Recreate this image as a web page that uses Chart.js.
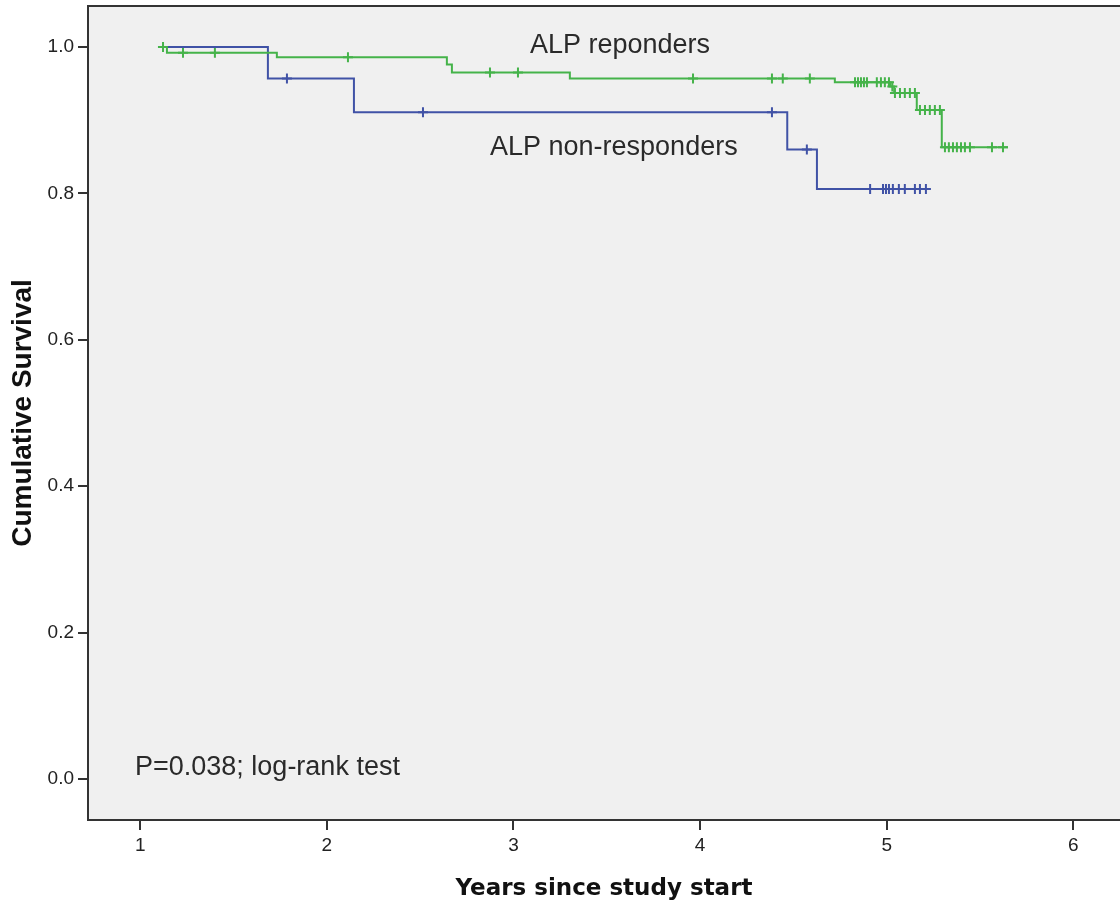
<!DOCTYPE html>
<html>
<head>
<meta charset="utf-8">
<script src="https://cdn.jsdelivr.net/npm/chart.js@4.4.1/dist/chart.umd.min.js"></script>
<style>
  html, body { margin: 0; padding: 0; background: #fff; }
  canvas { display: block; }
</style>
</head>
<body>
<canvas id="kmChart" width="1120" height="907"></canvas>
<script>
// survival steps (time in years, cumulative survival)
const respTimes = [1.095, 1.143, 1.732, 2.643, 2.67, 3.302, 4.722, 5.02, 5.04, 5.161, 5.295, 5.65];
const respSurv  = [1.0, 0.992, 0.986, 0.976, 0.965, 0.957, 0.952, 0.946, 0.937, 0.914, 0.863, 0.863];
const respCensored = [1.122, 1.229, 1.40, 2.113, 2.874, 3.024, 3.962, 4.385, 4.443, 4.588,
  4.83, 4.846, 4.862, 4.878, 4.894, 4.947, 4.969, 4.99, 5.012, 5.03,
  5.044, 5.071, 5.097, 5.124, 5.151, 5.178, 5.205, 5.231, 5.258, 5.285,
  5.312, 5.333, 5.355, 5.376, 5.398, 5.419, 5.446, 5.564, 5.623];

const nonTimes = [1.095, 1.684, 2.145, 4.467, 4.626, 5.232];
const nonSurv  = [1.0, 0.957, 0.911, 0.860, 0.806, 0.806];
const nonCensored = [1.786, 2.515, 4.385, 4.572, 4.911, 4.98, 4.996, 5.012, 5.033,
  5.065, 5.097, 5.151, 5.178, 5.21];

const xTicks = [1, 2, 3, 4, 5, 6];
const yTicks = [0, 0.2, 0.4, 0.6, 0.8, 1.0];

const GREEN = "#45b34a";
const BLUE = "#4052a6";
const AXIS = "#333";

// survival value in force at time t (for placing the censor marks on the curve)
function survAt(times, surv, t) {
  let s = surv[0];
  for (let i = 0; i < times.length; i++) {
    if (times[i] <= t) s = surv[i];
  }
  return s;
}

const toPts = (times, surv) => times.map((t, i) => ({ x: t, y: surv[i] }));
const censorPts = (cens, times, surv) => cens.map(t => ({ x: t, y: survAt(times, surv, t) }));

// ---------- background + frame ----------
const framePlugin = {
  id: "frame",
  beforeDraw(chart) {
    const { ctx, chartArea: a } = chart;
    ctx.save();
    ctx.fillStyle = "#fff";
    ctx.fillRect(0, 0, chart.width, chart.height);
    ctx.fillStyle = "#f0f0f0";
    ctx.fillRect(a.left, a.top, a.right - a.left, a.bottom - a.top);
    ctx.restore();
  },
  afterDraw(chart) {
    const { ctx, chartArea: a } = chart;
    ctx.save();
    ctx.strokeStyle = AXIS;
    ctx.lineWidth = 2;
    ctx.beginPath();
    ctx.moveTo(a.left - 1, a.top);
    ctx.lineTo(a.right, a.top);
    ctx.stroke();
    ctx.restore();
  }
};

// ---------- text annotations ----------
const notesPlugin = {
  id: "notes",
  afterDatasetsDraw(chart) {
    const ctx = chart.ctx;
    ctx.save();
    ctx.fillStyle = "#2a2a2a";
    ctx.font = "27px 'Liberation Sans', Arial, sans-serif";
    ctx.textBaseline = "alphabetic";
    ctx.textAlign = "left";
    ctx.fillText("ALP reponders", 530, 53);
    ctx.fillText("ALP non-responders", 490, 155);
    ctx.fillText("P=0.038; log-rank test", 135, 775);
    ctx.restore();
  }
};

new Chart(document.getElementById("kmChart"), {
  type: "line",
  data: {
    datasets: [
      {
        label: "ALP reponders",
        data: toPts(respTimes, respSurv),
        stepped: "before",
        borderColor: GREEN,
        borderWidth: 2,
        pointRadius: 0,
        fill: false
      },
      {
        label: "ALP non-responders",
        data: toPts(nonTimes, nonSurv),
        stepped: "before",
        borderColor: BLUE,
        borderWidth: 2,
        pointRadius: 0,
        fill: false
      },
      {
        label: "responders censored",
        data: censorPts(respCensored, respTimes, respSurv),
        showLine: false,
        pointStyle: "cross",
        pointRadius: 5,
        borderColor: GREEN,
        borderWidth: 2
      },
      {
        label: "non-responders censored",
        data: censorPts(nonCensored, nonTimes, nonSurv),
        showLine: false,
        pointStyle: "cross",
        pointRadius: 5,
        borderColor: BLUE,
        borderWidth: 2
      }
    ]
  },
  options: {
    responsive: false,
    animation: false,
    layout: { autoPadding: false, padding: { top: 6, left: 0, right: 0, bottom: 0 } },
    plugins: { legend: { display: false }, tooltip: { enabled: false } },
    scales: {
      x: {
        type: "linear",
        min: 0.72,
        max: 6.25,
        afterBuildTicks: s => { s.ticks = xTicks.map(v => ({ value: v })); },
        afterFit: s => { s.height = 87; s.paddingLeft = 0; s.paddingRight = 0; },
        grid: { drawOnChartArea: false, drawTicks: true, tickLength: 10, color: AXIS, lineWidth: 2 },
        border: { display: true, color: AXIS, width: 2 },
        ticks: {
          color: "#222",
          padding: 4,
          font: { family: "'Liberation Sans', Arial, sans-serif", size: 19 },
          maxRotation: 0,
          callback: v => String(v)
        },
        title: {
          display: true,
          text: "Years since study start",
          color: "#111",
          font: { family: "'DejaVu Sans', Verdana, sans-serif", size: 23, weight: "bold" },
          padding: { top: 0, bottom: 4 }
        }
      },
      y: {
        type: "linear",
        min: -0.056,
        max: 1.056,
        afterBuildTicks: s => { s.ticks = yTicks.map(v => ({ value: v })); },
        afterFit: s => { s.width = 88; s.paddingTop = 0; s.paddingBottom = 0; },
        grid: { drawOnChartArea: false, drawTicks: true, tickLength: 10, color: AXIS, lineWidth: 2 },
        border: { display: true, color: AXIS, width: 2 },
        ticks: {
          color: "#222",
          padding: 4,
          font: { family: "'Liberation Sans', Arial, sans-serif", size: 19 },
          callback: v => v.toFixed(1)
        },
        title: {
          display: true,
          text: "Cumulative Survival",
          color: "#111",
          font: { family: "'Liberation Sans', Arial, sans-serif", size: 28, weight: "bold" },
          padding: { top: 6, bottom: 0 }
        }
      }
    }
  },
  plugins: [framePlugin, notesPlugin]
});
</script>
</body>
</html>
